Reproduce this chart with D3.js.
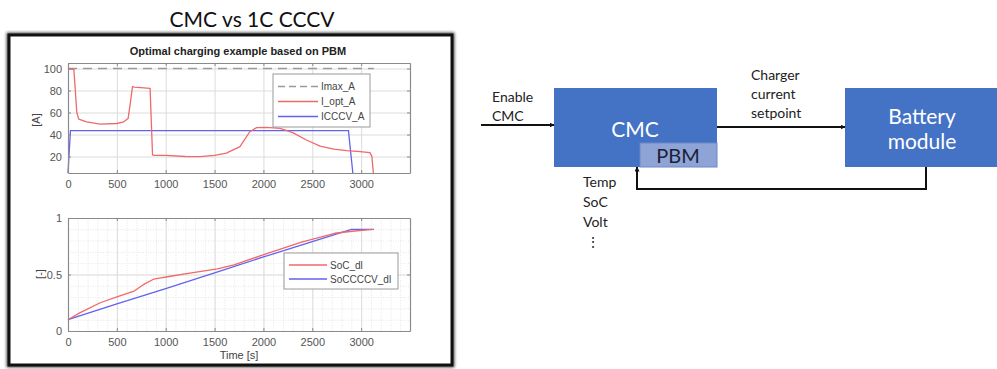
<!DOCTYPE html>
<html>
<head>
<meta charset="utf-8">
<script src="https://cdn.jsdelivr.net/npm/d3@7"></script>
<style>
  html, body { margin: 0; padding: 0; background: #fff; }
  svg { display: block; }
</style>
</head>
<body>
<svg id="fig" width="997" height="369"></svg>
<script>
// ---- Charging current profiles [A] ----
const timeOpt = [0, 60, 75, 90, 110, 190, 330, 500, 570, 615, 640, 660, 680, 840, 865, 880, 1000, 1200, 1350, 1500, 1620, 1760, 1860, 1930, 2030, 2170, 2300, 2440, 2580, 2720, 2850, 2990, 3090, 3110, 3125];
const currentOpt = [100, 99, 80, 60, 54, 51.5, 49.5, 50, 51.5, 54.5, 70, 83.5, 83, 82, 21.5, 21, 21, 20, 19.8, 21, 23, 29, 42.5, 46.2, 46.5, 45.6, 41.7, 35, 29.5, 26.8, 25.3, 24.4, 23.5, 20, 5];
const timeCccv = [0, 25, 2870, 2915];
const currentCccv = [5, 43.5, 43.5, 5];
const timeMax = [0, 3130];
const currentMax = [100, 100];

// ---- State of charge [-] ----
const timeSoc = [0, 120, 330, 530, 670, 770, 880, 950, 1020, 1230, 1530, 1700, 2050, 2390, 2730, 2930, 3125];
const socOpt = [0.1, 0.16, 0.25, 0.31, 0.35, 0.41, 0.46, 0.47, 0.48, 0.51, 0.55, 0.585, 0.69, 0.787, 0.865, 0.885, 0.9];
const timeSocCccv = [0, 500, 1000, 1500, 2000, 2500, 2900, 3130];
const socCccv = [0.1, 0.24, 0.375, 0.515, 0.655, 0.79, 0.9, 0.9];

// ---- Axis ticks and labels ----
const xTicks = [0, 500, 1000, 1500, 2000, 2500, 3000];
const yTicksCurrent = [20, 40, 60, 80, 100];
const yTicksSoc = [0, 0.5, 1];
const legendCurrent = ["Imax_A", "I_opt_A", "ICCCV_A"];
const legendSoc = ["SoC_dl", "SoCCCCV_dl"];

// ---- Block diagram labels ----
const inputLabel = ["Enable", "CMC"];
const outputLabel = ["Charger", "current", "setpoint"];
const feedbackLabel = ["Temp", "SoC", "Volt", "\u22EE"];
const batteryLabel = ["Battery", "module"];

const colRed = "#f06868", colBlue = "#6262f0", colGray = "#9a9a9a";
const boxBlue = "#4472c4";

const svg = d3.select("#fig");
const defs = svg.append("defs");
defs.append("filter").attr("id", "shadow").attr("x", "-5%").attr("y", "-5%").attr("width", "110%").attr("height", "110%")
  .append("feGaussianBlur").attr("stdDeviation", 1.6);
const mk = defs.append("marker").attr("id", "arrow").attr("viewBox", "0 0 10 10")
  .attr("refX", 9).attr("refY", 5).attr("markerWidth", 5).attr("markerHeight", 5)
  .attr("markerUnits", "userSpaceOnUse").attr("orient", "auto");
mk.append("path").attr("d", "M0,0 L10,5 L0,10 Z").attr("fill", "#111");

// ---- Main heading ----
svg.append("text").attr("x", 252).attr("y", 27).attr("text-anchor", "middle")
  .style("font-family", "Lato, 'Open Sans', sans-serif").style("font-size", "21px").style("fill", "#111")
  .text("CMC vs 1C CCCV");

// ---- Framed figure panel ----
svg.append("rect").attr("x", 9).attr("y", 35).attr("width", 443).attr("height", 330)
  .attr("fill", "none").attr("stroke", "#000").attr("stroke-width", 5).attr("filter", "url(#shadow)").attr("opacity", 0.7);
svg.append("rect").attr("x", 9).attr("y", 35).attr("width", 443).attr("height", 330)
  .attr("fill", "#fff").attr("stroke", "#111").attr("stroke-width", 3);

svg.append("text").attr("x", 238).attr("y", 55).attr("text-anchor", "middle")
  .style("font-family", "'Liberation Sans', Arial, sans-serif").style("font-weight", "bold")
  .style("font-size", "11px").style("fill", "#222")
  .text("Optimal charging example based on PBM");

const font = "'Liberation Sans', Arial, sans-serif";
const x = d3.scaleLinear().domain([0, 3500]).range([68, 410]);

function drawAxes(g, y, yTicks, opts) {
  const [y0, y1] = y.range();
  const [x0, x1] = x.range();
  // minor grid
  if (opts.minor) {
    g.append("g").attr("transform", `translate(0,${y0})`)
      .call(d3.axisBottom(x).tickValues(d3.range(0, 3501, 100)).tickSize(-(y0 - y1)).tickFormat(""))
      .call(a => a.select(".domain").remove())
      .call(a => a.selectAll("line").attr("stroke", "#e6e6e6").attr("stroke-dasharray", "1,1.5"));
    g.append("g").attr("transform", `translate(${x0},0)`)
      .call(d3.axisLeft(y).tickValues(d3.range(0, 1.001, 0.1)).tickSize(-(x1 - x0)).tickFormat(""))
      .call(a => a.select(".domain").remove())
      .call(a => a.selectAll("line").attr("stroke", "#e6e6e6").attr("stroke-dasharray", "1,1.5"));
  }
  // major grid
  g.append("g").attr("transform", `translate(0,${y0})`)
    .call(d3.axisBottom(x).tickValues(xTicks.concat([3500])).tickSize(-(y0 - y1)).tickFormat(""))
    .call(a => a.select(".domain").remove())
    .call(a => a.selectAll("line").attr("stroke", "#dcdcdc"));
  g.append("g").attr("transform", `translate(${x0},0)`)
    .call(d3.axisLeft(y).tickValues(yTicks).tickSize(-(x1 - x0)).tickFormat(""))
    .call(a => a.select(".domain").remove())
    .call(a => a.selectAll("line").attr("stroke", "#dcdcdc"));
}

function drawFrame(g, y, yTicks, yFmt) {
  const [y0, y1] = y.range();
  const [x0, x1] = x.range();
  const style = a => {
    a.select(".domain").attr("stroke", "#8a8a8a").attr("stroke-width", 1.2);
    a.selectAll(".tick line").attr("stroke", "#8a8a8a");
    a.selectAll("text").style("font-family", font).style("font-size", "11px").attr("fill", "#555");
  };
  g.append("g").attr("transform", `translate(0,${y0})`)
    .call(d3.axisBottom(x).tickValues(xTicks).tickSize(-3).tickSizeOuter(0).tickPadding(7).tickFormat(d3.format("d"))).call(style);
  g.append("g").attr("transform", `translate(0,${y1})`)
    .call(d3.axisTop(x).tickValues(xTicks).tickSize(-3).tickSizeOuter(0).tickFormat("")).call(style);
  g.append("g").attr("transform", `translate(${x0},0)`)
    .call(d3.axisLeft(y).tickValues(yTicks).tickSize(-3).tickSizeOuter(0).tickPadding(6).tickFormat(yFmt)).call(style);
  g.append("g").attr("transform", `translate(${x1},0)`)
    .call(d3.axisRight(y).tickValues(yTicks).tickSize(-3).tickSizeOuter(0).tickFormat("")).call(style);
}

function legend(g, x0, y0, w, rowH, labels, colors, dashes, lineLen) {
  g.append("rect").attr("x", x0).attr("y", y0).attr("width", w).attr("height", rowH * labels.length + 8)
    .attr("fill", "#fff").attr("stroke", "#9a9a9a").attr("stroke-width", 1);
  labels.forEach((lab, i) => {
    const cy = y0 + 4 + rowH * (i + 0.5) + 1;
    g.append("line").attr("x1", x0 + 5).attr("x2", x0 + 5 + lineLen).attr("y1", cy).attr("y2", cy)
      .attr("stroke", colors[i]).attr("stroke-width", 1.3).attr("stroke-dasharray", dashes[i]);
    g.append("text").attr("x", x0 + 8 + lineLen).attr("y", cy + 3.5)
      .style("font-family", font).style("font-size", "10px").attr("fill", "#444").text(lab);
  });
}

// ---- Upper axes: current ----
const yI = d3.scaleLinear().domain([5, 105]).range([173, 63]);
const gTop = svg.append("g");
drawAxes(gTop, yI, yTicksCurrent, { minor: false });
const lineI = d3.line().x(d => x(d[0])).y(d => yI(d[1]));
gTop.append("path").datum(d3.zip(timeMax, currentMax)).attr("d", lineI)
  .attr("fill", "none").attr("stroke", colGray).attr("stroke-width", 1.4).attr("stroke-dasharray", "9,6");
gTop.append("path").datum(d3.zip(timeCccv, currentCccv)).attr("d", lineI)
  .attr("fill", "none").attr("stroke", colBlue).attr("stroke-width", 1.3);
gTop.append("path").datum(d3.zip(timeOpt, currentOpt)).attr("d", lineI)
  .attr("fill", "none").attr("stroke", colRed).attr("stroke-width", 1.3).attr("stroke-linejoin", "round");
drawFrame(gTop, yI, yTicksCurrent, d3.format("d"));
gTop.append("text").attr("transform", "translate(40,120) rotate(-90)").attr("text-anchor", "middle")
  .style("font-family", font).style("font-size", "11px").attr("fill", "#444").text("[A]");
legend(gTop, 273, 74, 97, 15, legendCurrent, [colGray, colRed, colBlue], ["7,4", null, null], 40);

// ---- Lower axes: state of charge ----
const yS = d3.scaleLinear().domain([0, 1]).range([331, 218]);
const gBot = svg.append("g");
drawAxes(gBot, yS, yTicksSoc, { minor: true });
const lineS = d3.line().x(d => x(d[0])).y(d => yS(d[1]));
gBot.append("path").datum(d3.zip(timeSocCccv, socCccv)).attr("d", lineS)
  .attr("fill", "none").attr("stroke", colBlue).attr("stroke-width", 1.3);
gBot.append("path").datum(d3.zip(timeSoc, socOpt)).attr("d", lineS)
  .attr("fill", "none").attr("stroke", colRed).attr("stroke-width", 1.3).attr("stroke-linejoin", "round");
drawFrame(gBot, yS, yTicksSoc, d => d === 0.5 ? "0.5" : d3.format("d")(d));
gBot.append("text").attr("transform", "translate(44,274) rotate(-90)").attr("text-anchor", "middle")
  .style("font-family", font).style("font-size", "11px").attr("fill", "#444").text("[-]");
gBot.append("text").attr("x", 239).attr("y", 359).attr("text-anchor", "middle")
  .style("font-family", font).style("font-size", "11px").attr("fill", "#444").text("Time [s]");
legend(gBot, 284, 253, 114, 14, legendSoc, [colRed, colBlue], [null, null], 38);

// ---- Block diagram ----
const dFont = "Lato, 'Open Sans', sans-serif";
const gD = svg.append("g");
const arrowLine = (pts) => gD.append("path").attr("d", d3.line()(pts))
  .attr("fill", "none").attr("stroke", "#111").attr("stroke-width", 2).attr("marker-end", "url(#arrow)");

// controller block with embedded model
gD.append("rect").attr("x", 554).attr("y", 88).attr("width", 163).attr("height", 79).attr("fill", boxBlue);
gD.append("rect").attr("x", 640).attr("y", 143).attr("width", 77).attr("height", 24)
  .attr("fill", "#8ea4d6").attr("stroke", "#6d88c8").attr("stroke-width", 1);
gD.append("text").attr("x", 635).attr("y", 137).attr("text-anchor", "middle")
  .style("font-family", dFont).style("font-size", "21px").attr("fill", "#fff").text("CMC");
gD.append("text").attr("x", 678).attr("y", 163).attr("text-anchor", "middle")
  .style("font-family", dFont).style("font-size", "20px").attr("fill", "#1c2236").text("PBM");

// battery block
gD.append("rect").attr("x", 845).attr("y", 88).attr("width", 152).attr("height", 79).attr("fill", boxBlue);
batteryLabel.forEach((t, i) => gD.append("text").attr("x", 922).attr("y", 124 + i * 25).attr("text-anchor", "middle")
  .style("font-family", dFont).style("font-size", "21px").attr("fill", "#fff").text(t));

// signal paths
arrowLine([[481, 125], [554, 125]]);
arrowLine([[717, 127], [845, 127]]);
arrowLine([[926, 167], [926, 189], [637, 189], [637, 167]]);

inputLabel.forEach((t, i) => gD.append("text").attr("x", 492).attr("y", 102 + i * 19)
  .style("font-family", dFont).style("font-size", "14px").attr("fill", "#222").text(t));
outputLabel.forEach((t, i) => gD.append("text").attr("x", 751).attr("y", 80 + i * 19)
  .style("font-family", dFont).style("font-size", "14px").attr("fill", "#222").text(t));
feedbackLabel.forEach((t, i) => gD.append("text").attr("x", i === 3 ? 586 : 583).attr("y", 187 + i * 20)
  .style("font-family", dFont).style("font-size", "14px").attr("fill", "#222").text(t));
</script>
</body>
</html>
